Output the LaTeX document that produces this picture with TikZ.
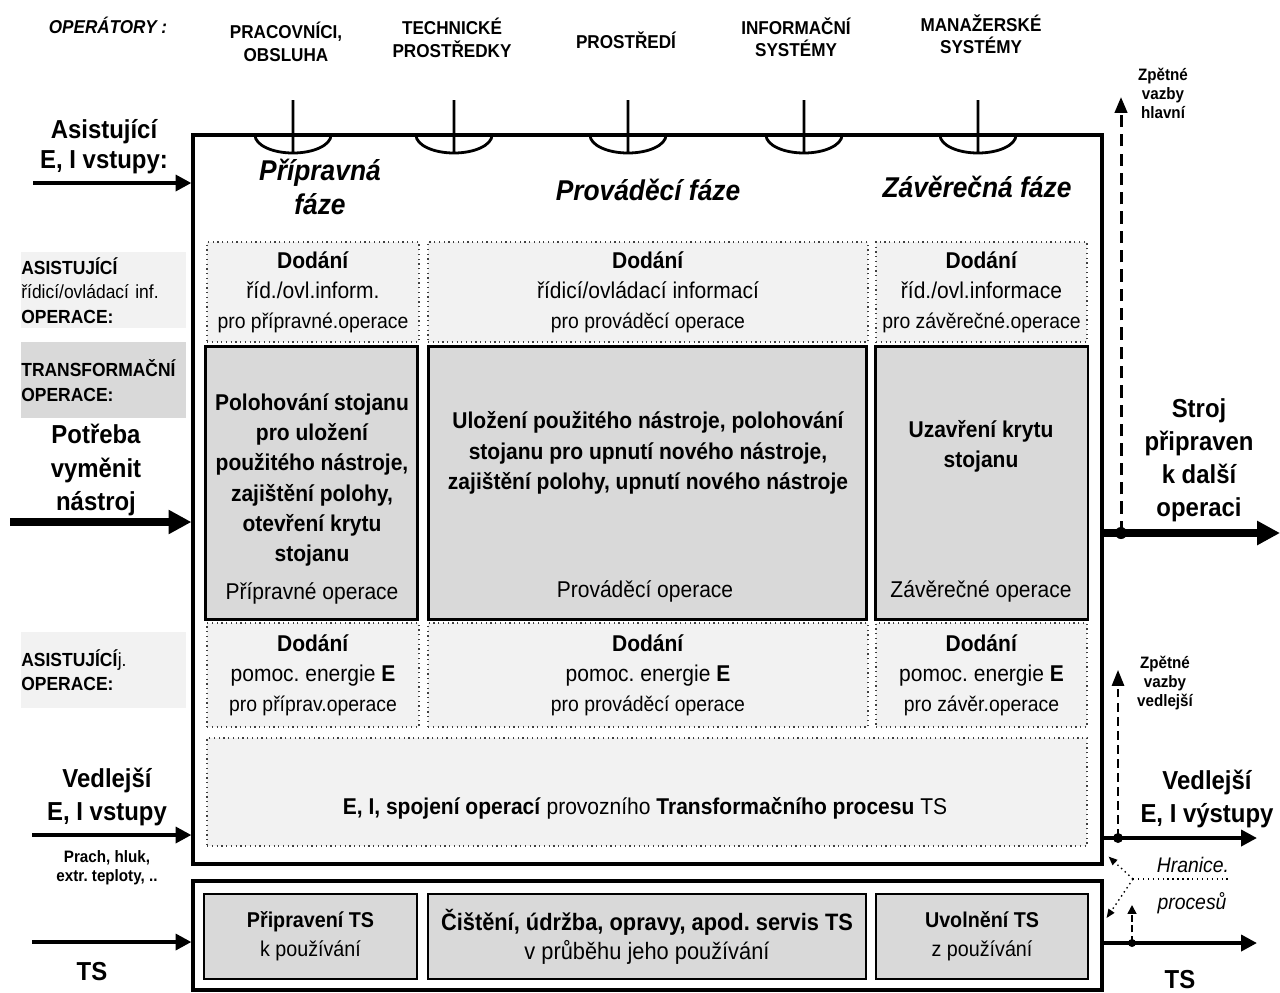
\documentclass[tikz,border=0pt]{standalone}
\usepackage{fontspec}
\setmainfont{Liberation Sans}[FakeStretch=0.92]
\usetikzlibrary{arrows.meta}
\frenchspacing

\begin{document}
\begin{tikzpicture}[x=0.02cm, y=-0.02cm,
  every node/.style={inner sep=0pt, align=center},
  dotbox/.style={draw=black!75, dotted, line width=0.7pt, fill=black!5, font=\fontsize{13}{17}\selectfont},
  opbox/.style={draw, line width=1.7pt, fill=black!15},
  tsbox/.style={draw, line width=1.2pt, fill=black!15, minimum height=1.7cm, font=\fontsize{12.2}{16.5}\selectfont},
  sidebox/.style={text width=3.3cm, align=left, minimum height=1.52cm, font=\fontsize{10.8}{14}\selectfont},
  oplabel/.style={font=\bfseries\fontsize{10.6}{12.8}\selectfont},
  phasetitle/.style={font=\bfseries\itshape\fontsize{16.3}{19}\selectfont},
  iolabel/.style={font=\bfseries\fontsize{14.8}{18.8}\selectfont},
  smalltext/.style={font=\bfseries\fontsize{9.4}{10.8}\selectfont},
  boxtext/.style={font=\fontsize{13}{17}\selectfont},
  boxbold/.style={font=\bfseries\fontsize{13}{17.2}\selectfont},
  flow/.style={line width=2.2pt, -{Triangle[length=9pt,width=9pt]}},
  mainflow/.style={line width=4.5pt, -{Triangle[length=13pt,width=13pt]}},
  feedback/.style={line width=1.7pt, dash pattern=on 7pt off 4pt, -{Triangle[length=9pt,width=7pt]}},
  boundline/.style={dotted, line width=0.8pt, -{Triangle[length=5pt,width=4pt]}}
]
\useasboundingbox (0,0) rectangle (1280,992);

\node (proc) [draw, line width=1.9pt, minimum width=18.18cm, minimum height=14.58cm] at (647.5,499.5) {};
\node (ts) [draw, line width=1.9pt, minimum width=18.18cm, minimum height=2.18cm] at (647.5,935.5) {};

\foreach \x in {293,454,628,804,978}
  \draw[line width=1.6pt] (\x,100) -- (\x,153) (\x-38,135) arc[start angle=180, end angle=0, x radius=38, y radius=18];

\node (opers) [font=\bfseries\itshape\fontsize{10.6}{12.8}\selectfont] at (108,25) {OPERÁTORY :};
\node (staff) [oplabel] at (286,42) {PRACOVNÍCI,\\OBSLUHA};
\node (tech) [oplabel] at (452,38) {TECHNICKÉ\\PROSTŘEDKY};
\node (env) [oplabel] at (626,40) {PROSTŘEDÍ};
\node (info) [oplabel] at (796,37) {INFORMAČNÍ\\SYSTÉMY};
\node (mgmt) [oplabel] at (981,34) {MANAŽERSKÉ\\SYSTÉMY};

\node (prepph) [phasetitle] at (320,187) {Přípravná\\fáze};
\node (execph) [phasetitle] at (648,190) {Prováděcí fáze};
\node (closeph) [phasetitle] at (977,187) {Závěrečná fáze};

\node (ctl1) [dotbox, minimum width=4.24cm, minimum height=2cm] at (313,292) {\textbf{Dodání}\\říd./ovl.inform.\\{\fontsize{12}{17}\selectfont pro přípravné.operace}};
\node (ctl2) [dotbox, minimum width=8.8cm, minimum height=2cm] at (648,292) {\textbf{Dodání}\\řídicí/ovládací informací\\{\fontsize{12}{17}\selectfont pro prováděcí operace}};
\node (ctl3) [dotbox, minimum width=4.22cm, minimum height=2cm] at (981.5,292) {\textbf{Dodání}\\říd./ovl.informace\\{\fontsize{12}{17}\selectfont pro závěrečné.operace}};

\node (prep) [opbox, minimum width=4.26cm, minimum height=5.48cm] at (311.5,483) {};
\node (exec) [opbox, minimum width=8.78cm, minimum height=5.48cm] at (647.5,483) {};
\node (close) [opbox, minimum width=4.26cm, minimum height=5.48cm] at (981.5,483) {};
\node (preptext) [boxbold] at (312,480) {Polohování stojanu\\pro uložení\\použitého nástroje,\\zajištění polohy,\\otevření krytu\\stojanu};
\node (exectext) [boxbold] at (648,453) {Uložení použitého nástroje, polohování\\stojanu pro upnutí nového nástroje,\\zajištění polohy, upnutí nového nástroje};
\node (closetext) [boxbold] at (981,446) {Uzavření krytu\\stojanu};
\node (prepname) [boxtext] at (312,593) {Přípravné operace};
\node (execname) [boxtext] at (645,591) {Prováděcí operace};
\node (closename) [boxtext] at (981,591) {Závěrečné operace};

\node (nrg1) [dotbox, minimum width=4.24cm, minimum height=2.08cm] at (313,675) {\textbf{Dodání}\\pomoc. energie \textbf{E}\\{\fontsize{12}{17}\selectfont pro příprav.operace}};
\node (nrg2) [dotbox, minimum width=8.8cm, minimum height=2.08cm] at (648,675) {\textbf{Dodání}\\pomoc. energie \textbf{E}\\{\fontsize{12}{17}\selectfont pro prováděcí operace}};
\node (nrg3) [dotbox, minimum width=4.22cm, minimum height=2.08cm] at (981.5,675) {\textbf{Dodání}\\pomoc. energie \textbf{E}\\{\fontsize{12}{17}\selectfont pro závěr.operace}};

\node (link) [dotbox, minimum width=17.6cm, minimum height=2.16cm] at (647,792) {};
\node (linktext) [boxtext] at (645,808) {\textbf{E, I, spojení operací} provozního \textbf{Transformačního procesu} TS};

\node (asist1) [sidebox, fill=black!5, anchor=north west] at (21,252) {\textbf{ASISTUJÍCÍ}\\řídicí/ovládací inf.\\\textbf{OPERACE:}};
\node (transf) [sidebox, fill=black!15, anchor=north west] at (21,342) {\textbf{TRANSFORMAČNÍ}\\\textbf{OPERACE:}};
\node (asist2) [sidebox, fill=black!5, anchor=north west] at (21,632) {\textbf{ASISTUJÍCÍ}j.\\\textbf{OPERACE:}};

\node (asin) [iolabel, font=\bfseries\fontsize{14.8}{17}\selectfont] at (104,147) {Asistující\\E, I vstupy:};
\coordinate (asfrom) at (33,183);
\draw[flow] (asfrom) -- (asfrom -| proc.west);

\node (need) [iolabel] at (96,470) {Potřeba\\vyměnit\\nástroj};
\coordinate (needfrom) at (10,522);
\draw[mainflow] (needfrom) -- (needfrom -| proc.west);

\node (sidein) [iolabel] at (107,797) {Vedlejší\\E, I vstupy};
\coordinate (sidefrom) at (32,835);
\draw[flow] (sidefrom) -- (sidefrom -| proc.west);
\node (dust) [smalltext] at (107,868) {Prach, hluk,\\extr. teploty, ..};

\coordinate (tsfrom) at (32,942);
\draw[flow] (tsfrom) -- (tsfrom -| ts.west);
\node (tsin) [iolabel] at (92,972) {TS};

\node (tsprep) [tsbox, minimum width=4.26cm] at (310.5,936.5) {\textbf{Připravení TS}\\k používání};
\node (tsserv) [tsbox, minimum width=8.76cm, font=\fontsize{13.5}{16.5}\selectfont] at (647,936.5) {\textbf{Čištění, údržba, opravy, apod. servis TS}\\v průběhu jeho používání};
\node (tsrel) [tsbox, minimum width=4.24cm] at (982,936.5) {\textbf{Uvolnění TS}\\z používání};

\coordinate (readyto) at (1280,533);
\draw[mainflow] (readyto -| proc.east) -- (readyto);
\coordinate (mainfb) at (1121,533);
\coordinate (mainfbtop) at (1121,97);
\draw[feedback] (mainfb) -- (mainfbtop);
\fill (mainfb) circle (6);
\node (mainfblab) [smalltext] at (1163,93) {Zpětné\\vazby\\hlavní};
\node (ready) [iolabel] at (1199,460) {Stroj\\připraven\\k další\\operaci};

\coordinate (sideto) at (1257,838);
\draw[flow] (sideto -| proc.east) -- (sideto);
\coordinate (sidefb) at (1118,838);
\coordinate (sidefbtop) at (1118,670);
\draw[feedback, line width=1pt, dash pattern=on 5pt off 3pt] (sidefb) -- (sidefbtop);
\fill (sidefb) circle (5);
\node (sidefblab) [smalltext] at (1165,683) {Zpětné\\vazby\\vedlejší};
\node (sideout) [iolabel] at (1207,799) {Vedlejší\\E, I výstupy};

\coordinate (bnd) at (1133,879);
\coordinate (bndend) at (1230,879);
\draw[dotted, line width=0.8pt] (bnd) -- (bndend);
\draw[boundline] (bnd) -- ([shift={(5,-9)}]proc.south east);
\draw[boundline] (bnd) -- ([shift={(3,-17.5)}]ts.east);
\node (bndlab) [font=\itshape\fontsize{12}{14}\selectfont] at (1193,865) {Hranice.};
\node (bndlab2) [font=\itshape\fontsize{12}{14}\selectfont] at (1192,903) {procesů};

\coordinate (tsto) at (1257,943);
\draw[flow] (tsto -| ts.east) -- (tsto);
\coordinate (tsfb) at (1132,943);
\coordinate (tsfbtop) at (1132,905);
\draw[feedback, line width=1pt, dash pattern=on 4pt off 2pt, -{Triangle[length=5pt,width=5pt]}] (tsfb) -- (tsfbtop);
\fill (tsfb) circle (4);
\node (tsout) [iolabel] at (1180,980) {TS};
\end{tikzpicture}
\end{document}
